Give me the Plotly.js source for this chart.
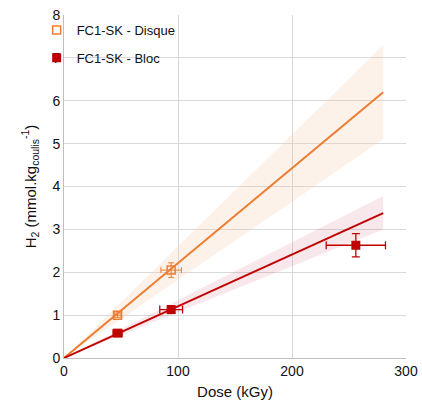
<!DOCTYPE html>
<html><head><meta charset="utf-8">
<script src="https://cdn.plot.ly/plotly-2.35.2.min.js"></script>
<style>body{margin:0;padding:0;background:#fff}#chart{width:422px;height:412px}</style>
</head><body><div id="chart"></div>
<script>
// Data
const disqueDose = [47, 94];
const disqueH2 = [1.0, 2.05];
const disqueDoseErr = [3, 9];
const disqueH2Err = [0.05, 0.17];

const blocDose = [47, 94, 256];
const blocH2 = [0.58, 1.13, 2.63];
const blocDoseErr = [4, 10, 26];
const blocH2Err = [0.05, 0.08, 0.27];

const fitX = [0, 280];
const disqueFit = [0, 6.2];
const disqueUpper = [0, 7.3];
const disqueLower = [0, 5.1];
const blocFit = [0, 3.38];
const blocUpper = [0, 3.78];
const blocLower = [0, 3.0];

const orange = '#ED7D31', red = '#C00000';

const traces = [
  {x: fitX, y: disqueLower, mode: 'lines', line: {width: 0}, showlegend: false, hoverinfo: 'skip'},
  {x: fitX, y: disqueUpper, mode: 'lines', line: {width: 0}, fill: 'tonexty', fillcolor: 'rgba(248,203,173,0.25)', showlegend: false, hoverinfo: 'skip'},
  {x: fitX, y: blocLower, mode: 'lines', line: {width: 0}, showlegend: false, hoverinfo: 'skip'},
  {x: fitX, y: blocUpper, mode: 'lines', line: {width: 0}, fill: 'tonexty', fillcolor: 'rgba(214,90,110,0.14)', showlegend: false, hoverinfo: 'skip'},
  {x: fitX, y: disqueFit, mode: 'lines', line: {color: orange, width: 2}, showlegend: false},
  {x: fitX, y: blocFit, mode: 'lines', line: {color: red, width: 2}, showlegend: false},
  {x: disqueDose, y: disqueH2, mode: 'markers', name: 'FC1-SK - Disque', legendgroup: 'a',
   marker: {symbol: 'square-open', size: 8, color: orange, line: {width: 1.5, color: orange}},
   error_x: {type: 'data', array: disqueDoseErr, color: orange, thickness: 1, width: 3},
   error_y: {type: 'data', array: disqueH2Err, color: orange, thickness: 1, width: 3}},
  {x: blocDose, y: blocH2, mode: 'markers', name: 'FC1-SK - Bloc', legendgroup: 'b',
   marker: {symbol: 'square', size: 9, color: red},
   error_x: {type: 'data', array: blocDoseErr, color: red, thickness: 1.3, width: 4},
   error_y: {type: 'data', array: blocH2Err, color: red, thickness: 1.3, width: 4}}
];

const layout = {
  width: 422, height: 412,
  margin: {l: 64, r: 16, t: 15, b: 54},
  paper_bgcolor: '#fff', plot_bgcolor: '#fff',
  font: {family: 'Liberation Sans, Arial, sans-serif', size: 14, color: '#111'},
  showlegend: true,
  legend: {x: -0.08, y: 1.0, xanchor: 'left', yanchor: 'top', bgcolor: 'rgba(255,255,255,0)',
           traceorder: 'grouped', font: {size: 13, color: '#111'}, itemwidth: 30, tracegroupgap: 8},
  xaxis: {range: [0, 300], tickvals: [0, 100, 200, 300], showgrid: true, gridcolor: '#d9d9d9',
          zeroline: false, showline: true, linecolor: '#bfbfbf', ticks: '', mirror: false,
          title: {text: 'Dose (kGy)', font: {size: 15}, standoff: 8}},
  yaxis: {range: [0, 8], dtick: 1, showgrid: true, gridcolor: '#d9d9d9', zeroline: false,
          showline: true, linecolor: '#bfbfbf', ticks: '',
          title: {text: 'H<sub>2</sub> (mmol.kg<sub>coulis</sub><sup>-1</sup>)', font: {size: 15}, standoff: 12}}
};

Plotly.newPlot('chart', traces, layout, {displayModeBar: false, staticPlot: true});
</script>
</body></html>
